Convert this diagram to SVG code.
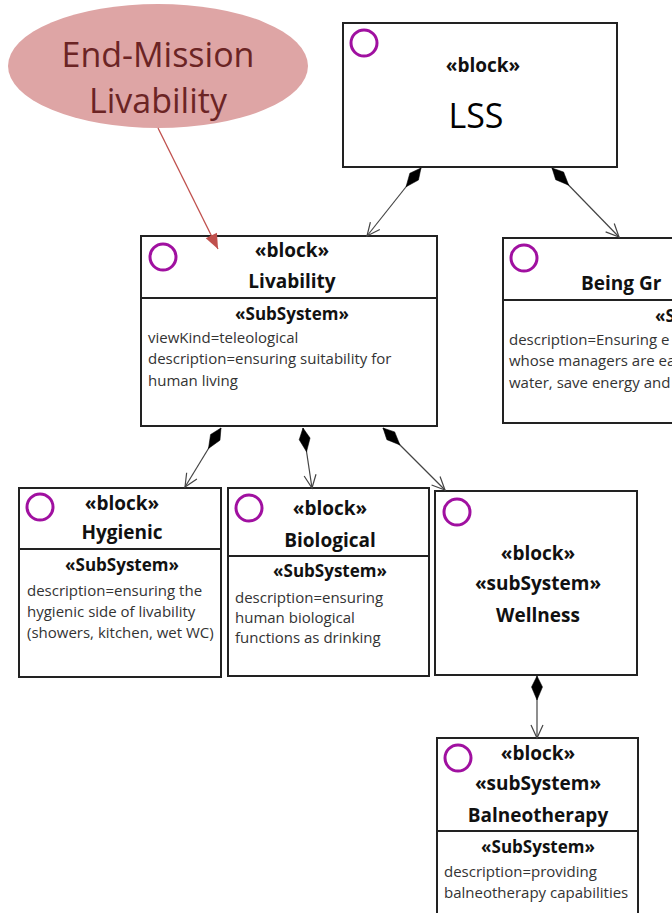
<svg xmlns="http://www.w3.org/2000/svg" width="672" height="913" viewBox="0 0 672 913">
<style>
.box{fill:#fff;stroke:#222;stroke-width:2}
.div{stroke:#222;stroke-width:2}
.icon{fill:none;stroke:#a010a0;stroke-width:3}
.h{font-family:"Open Sans","Noto Sans",sans-serif;font-weight:bold;font-size:19px;fill:#111;text-anchor:middle}
.st{font-family:"Open Sans","Noto Sans",sans-serif;font-weight:bold;font-size:17px;fill:#111;text-anchor:middle}
.t{font-family:"Open Sans","Noto Sans",sans-serif;font-size:15px;fill:#333}
.conn{stroke:#444;stroke-width:1.2;fill:none;marker-start:url(#dia);marker-end:url(#arr)}
.note{font-family:"Open Sans","Noto Sans",sans-serif;font-size:34px;fill:#6b2424;text-anchor:middle}
</style>
<defs>
<marker id="dia" markerUnits="userSpaceOnUse" markerWidth="30" markerHeight="30" refX="0" refY="0" orient="auto" viewBox="-2 -8 30 16" overflow="visible">
<path d="M0,0 L11,-5.5 L24,0 L11,5.5 Z" fill="#000" stroke="#000" stroke-width="0.5"/>
</marker>
<marker id="arr" markerUnits="userSpaceOnUse" markerWidth="20" markerHeight="20" refX="0" refY="0" orient="auto" viewBox="-16 -10 20 20" overflow="visible">
<path d="M-13,-6 L0,0 L-13,6" fill="none" stroke="#444" stroke-width="1.2"/>
</marker>
<marker id="redarr" markerUnits="userSpaceOnUse" markerWidth="20" markerHeight="20" refX="0" refY="0" orient="auto" viewBox="-14 -8 16 16" overflow="visible">
<path d="M-12,-5 L0,0 L-12,5 Z" fill="#c0504d"/>
</marker>
</defs>

<g id="note-end-mission">
<ellipse cx="158" cy="66" rx="150" ry="62" fill="#dea5a5"/>
<text class="note" x="158" y="67">End-Mission</text>
<text class="note" x="158" y="113">Livability</text>
</g>

<g id="LSS">
<rect class="box" x="343" y="23" width="274" height="144"/>
<circle class="icon" cx="364" cy="43" r="13"/>
<text class="h" x="483" y="72">«block»</text>
<text x="476" y="128" font-family="Open Sans, Noto Sans, sans-serif" font-size="34" fill="#000" text-anchor="middle">LSS</text>
</g>

<g id="Livability">
<rect class="box" x="141" y="236" width="296" height="190"/>
<line class="div" x1="141" y1="298" x2="437" y2="298"/>
<circle class="icon" cx="163" cy="257" r="13"/>
<text class="h" x="292" y="257">«block»</text>
<text class="h" x="292" y="288">Livability</text>
<text class="st" x="292" y="320">«SubSystem»</text>
<text class="t" x="148" y="343">viewKind=teleological</text>
<text class="t" x="148" y="364">description=ensuring suitability for</text>
<text class="t" x="148" y="386">human living</text>
</g>

<g id="BeingGreen">
<rect class="box" x="503" y="238" width="200" height="185"/>
<line class="div" x1="503" y1="300" x2="703" y2="300"/>
<circle class="icon" cx="524" cy="258" r="13"/>
<text class="h" x="581" y="290" style="text-anchor:start">Being Gr</text>
<text class="st" x="655" y="322" style="text-anchor:start">«S</text>
<text class="t" x="509" y="345">description=Ensuring e</text>
<text class="t" x="509" y="366">whose managers are ea</text>
<text class="t" x="509" y="388">water, save energy and</text>
</g>

<g id="Hygienic">
<rect class="box" x="19" y="488" width="202" height="189"/>
<line class="div" x1="19" y1="549" x2="221" y2="549"/>
<circle class="icon" cx="40" cy="507" r="13"/>
<text class="h" x="122" y="510">«block»</text>
<text class="h" x="122" y="539">Hygienic</text>
<text class="st" x="122" y="571">«SubSystem»</text>
<text class="t" x="27" y="596">description=ensuring the</text>
<text class="t" x="27" y="617">hygienic side of livability</text>
<text class="t" x="27" y="638">(showers, kitchen, wet WC)</text>
</g>

<g id="Biological">
<rect class="box" x="228" y="488" width="201" height="188"/>
<line class="div" x1="228" y1="556" x2="429" y2="556"/>
<circle class="icon" cx="249" cy="508" r="13"/>
<text class="h" x="330" y="515">«block»</text>
<text class="h" x="330" y="547">Biological</text>
<text class="st" x="330" y="577">«SubSystem»</text>
<text class="t" x="235" y="603">description=ensuring</text>
<text class="t" x="235" y="623">human biological</text>
<text class="t" x="235" y="643">functions as drinking</text>
</g>

<g id="Wellness">
<rect class="box" x="435" y="491" width="202" height="184"/>
<circle class="icon" cx="457" cy="512" r="13"/>
<text class="h" x="538" y="560">«block»</text>
<text class="h" x="538" y="590">«subSystem»</text>
<text class="h" x="538" y="622">Wellness</text>
</g>

<g id="Balneotherapy">
<rect class="box" x="437" y="738" width="201" height="190"/>
<line class="div" x1="437" y1="831" x2="638" y2="831"/>
<circle class="icon" cx="458" cy="758" r="13"/>
<text class="h" x="538" y="760">«block»</text>
<text class="h" x="538" y="790">«subSystem»</text>
<text class="h" x="538" y="822">Balneotherapy</text>
<text class="st" x="538" y="853">«SubSystem»</text>
<text class="t" x="444" y="877">description=providing</text>
<text class="t" x="444" y="898">balneotherapy capabilities</text>
</g>

<g id="connectors">
<line class="conn" x1="421" y1="168" x2="367" y2="236"/>
<line class="conn" x1="552" y1="168" x2="619" y2="237"/>
<line class="conn" x1="221" y1="428" x2="185" y2="487"/>
<line class="conn" x1="303" y1="428" x2="312" y2="488"/>
<line class="conn" x1="383" y1="428" x2="445" y2="490"/>
<line class="conn" x1="537" y1="676" x2="537" y2="738"/>
<line x1="158" y1="128" x2="218" y2="249" stroke="#c0504d" stroke-width="1.3" marker-end="url(#redarr)"/>
</g>
</svg>
